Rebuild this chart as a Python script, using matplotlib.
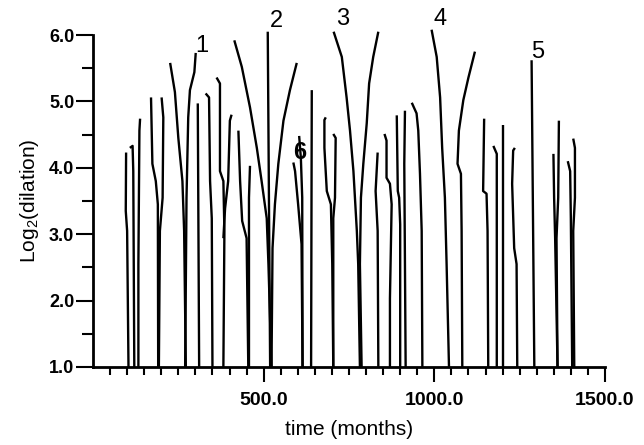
import numpy as np
import matplotlib.pyplot as plt
from matplotlib.ticker import FixedLocator

plt.rcParams['font.family'] = ['Liberation Sans', 'DejaVu Sans']
plt.rcParams['mathtext.fontset'] = 'custom'
plt.rcParams['mathtext.rm'] = 'Liberation Sans'

# -------------------- DATA --------------------
# wavelet-transform maxima lines: time (months) vs log2(dilation)

line_times = [
    [97, 96, 100, 104],
    [108, 116, 118, 121],
    [138, 136, 133, 133],
    [170, 174, 184, 190, 191],
    [201, 206, 204, 196, 193],
    [226, 240, 250, 262, 267, 272],
    [301, 297, 284, 279, 274, 270],
    [307, 311],
    [330, 340, 343, 348, 350],
    [362, 372, 372, 382, 385, 382],
    [406, 401, 396, 387, 382],
    [426, 431, 437, 450, 455],
    [460, 457, 457],
    [414, 436, 460, 480, 494, 509, 514, 523],
    [512, 519],
    [597, 577, 558, 543, 533, 526, 523],
    [587, 592, 601, 611, 614],
    [604, 609, 613, 614],
    [641, 639],
    [682, 678, 678, 685, 697, 701, 704],
    [704, 711, 709, 704, 704],
    [705, 729, 743, 753, 763, 773, 777, 782],
    [836, 821, 809, 802, 792, 785, 782, 787],
    [834, 828, 834, 836],
    [854, 860, 860, 870, 875, 870, 870],
    [890, 893, 897, 900, 900],
    [914, 912, 916],
    [934, 948, 953, 958, 963, 965],
    [992, 1007, 1017, 1023, 1031, 1036, 1043],
    [1119, 1100, 1085, 1072, 1068, 1078, 1080, 1082],
    [1146, 1143, 1153, 1156, 1158],
    [1173, 1183, 1183],
    [1202, 1202],
    [1236, 1231, 1228, 1234, 1241, 1243],
    [1285, 1293],
    [1349, 1351, 1354, 1361],
    [1365, 1363, 1358, 1361],
    [1391, 1398, 1400, 1404],
    [1407, 1412, 1412, 1407, 1410],
]

line_levels = [
    [4.23, 3.35, 3.05, 1.0],
    [4.30, 4.33, 3.95, 1.0],
    [4.74, 4.56, 2.55, 1.0],
    [5.06, 4.06, 3.80, 3.45, 1.0],
    [5.06, 4.76, 3.55, 3.05, 1.0],
    [5.58, 5.14, 4.45, 3.80, 3.05, 1.0],
    [5.73, 5.44, 5.17, 4.76, 3.55, 1.0],
    [4.97, 1.0],
    [5.12, 5.06, 3.80, 3.24, 1.0],
    [5.36, 5.27, 3.95, 3.80, 3.05, 1.0],
    [4.80, 4.71, 3.80, 3.39, 2.94],
    [4.56, 3.80, 3.20, 2.94, 1.0],
    [4.03, 3.55, 1.0],
    [5.92, 5.52, 4.91, 4.30, 3.80, 3.24, 2.55, 1.0],
    [6.05, 1.0],
    [5.58, 5.17, 4.71, 4.06, 3.45, 2.79, 1.0],
    [4.08, 3.95, 3.45, 2.85, 1.0],
    [4.48, 4.15, 3.55, 1.0],
    [5.17, 1.0],
    [4.76, 4.72, 4.30, 3.65, 3.45, 2.55, 1.0],
    [4.51, 4.45, 3.55, 3.24, 1.0],
    [6.05, 5.67, 5.06, 4.56, 3.95, 3.05, 2.55, 1.0],
    [6.05, 5.67, 5.27, 4.67, 4.06, 3.55, 2.55, 1.0],
    [4.23, 3.65, 3.05, 1.0],
    [4.51, 4.41, 3.85, 3.76, 3.45, 2.03, 1.0],
    [4.79, 3.65, 3.55, 3.15, 1.0],
    [4.86, 4.06, 1.0],
    [4.98, 4.82, 4.56, 3.91, 3.05, 1.0],
    [6.08, 5.67, 5.06, 4.30, 3.55, 2.55, 1.0],
    [5.75, 5.36, 5.02, 4.56, 4.06, 3.91, 3.05, 1.0],
    [4.74, 3.65, 3.61, 3.05, 1.0],
    [4.33, 4.21, 1.0],
    [4.64, 1.0],
    [4.30, 4.26, 3.76, 2.79, 2.55, 1.0],
    [5.62, 1.0],
    [4.21, 3.55, 2.94, 1.0],
    [4.71, 3.55, 2.94, 1.0],
    [4.10, 3.95, 3.24, 1.0],
    [4.44, 4.30, 3.55, 3.05, 1.0],
]

# numbered maxima lines
peak_labels = ["1", "2", "3", "4", "5", "6"]
peak_t = [319, 536, 732, 1017, 1304, 606]
peak_v = [5.83, 6.21, 6.24, 6.24, 5.75, 4.23]

x_major = [500, 1000, 1500]
x_minor = [t for t in range(50, 1500, 50) if t not in x_major]
y_major = [1, 2, 3, 4, 5, 6]
y_minor = [1.5, 2.5, 3.5, 4.5, 5.5]

# -------------------- PLOT --------------------

fig = plt.figure(figsize=(6.44, 4.45), dpi=100)
ax = fig.add_axes([0.1444, 0.1753, 0.795, 0.746])

for t, v in zip(line_times, line_levels):
    ax.plot(t, v, color='black', lw=1.7, solid_capstyle='butt',
            solid_joinstyle='round', clip_on=False)

for lab, t, v in zip(peak_labels, peak_t, peak_v):
    ax.text(t, v, lab, fontsize=17, ha='center', va='center',
            fontweight='bold' if lab == "6" else 'normal')

ax.set_xlim(0, 1500)
ax.set_ylim(1, 6)

ax.spines['top'].set_visible(False)
ax.spines['right'].set_visible(False)
ax.spines['left'].set_linewidth(2.0)
ax.spines['bottom'].set_linewidth(2.0)

ax.xaxis.set_major_locator(FixedLocator(x_major))
ax.xaxis.set_minor_locator(FixedLocator(x_minor))
ax.yaxis.set_major_locator(FixedLocator(y_major))
ax.yaxis.set_minor_locator(FixedLocator(y_minor))
ax.set_xticklabels([f"{t:.1f}" for t in x_major], fontweight='bold')
ax.set_yticklabels([f"{v:.1f}" for v in y_major], fontweight='bold')

ax.tick_params(axis='x', which='major', length=11, width=1.5,
               labelsize=14, pad=7)
ax.tick_params(axis='x', which='minor', length=6, width=1.5)
ax.tick_params(axis='y', which='major', length=12.5, width=1.5,
               labelsize=13, pad=1)
ax.tick_params(axis='y', which='minor', length=8, width=1.5)

ax.set_xlabel("time (months)", fontsize=15, labelpad=8)
ax.set_ylabel(r"Log$_\mathrm{2}$(dilation)", fontsize=15, labelpad=6)

fig.savefig("out.png", dpi=100)
